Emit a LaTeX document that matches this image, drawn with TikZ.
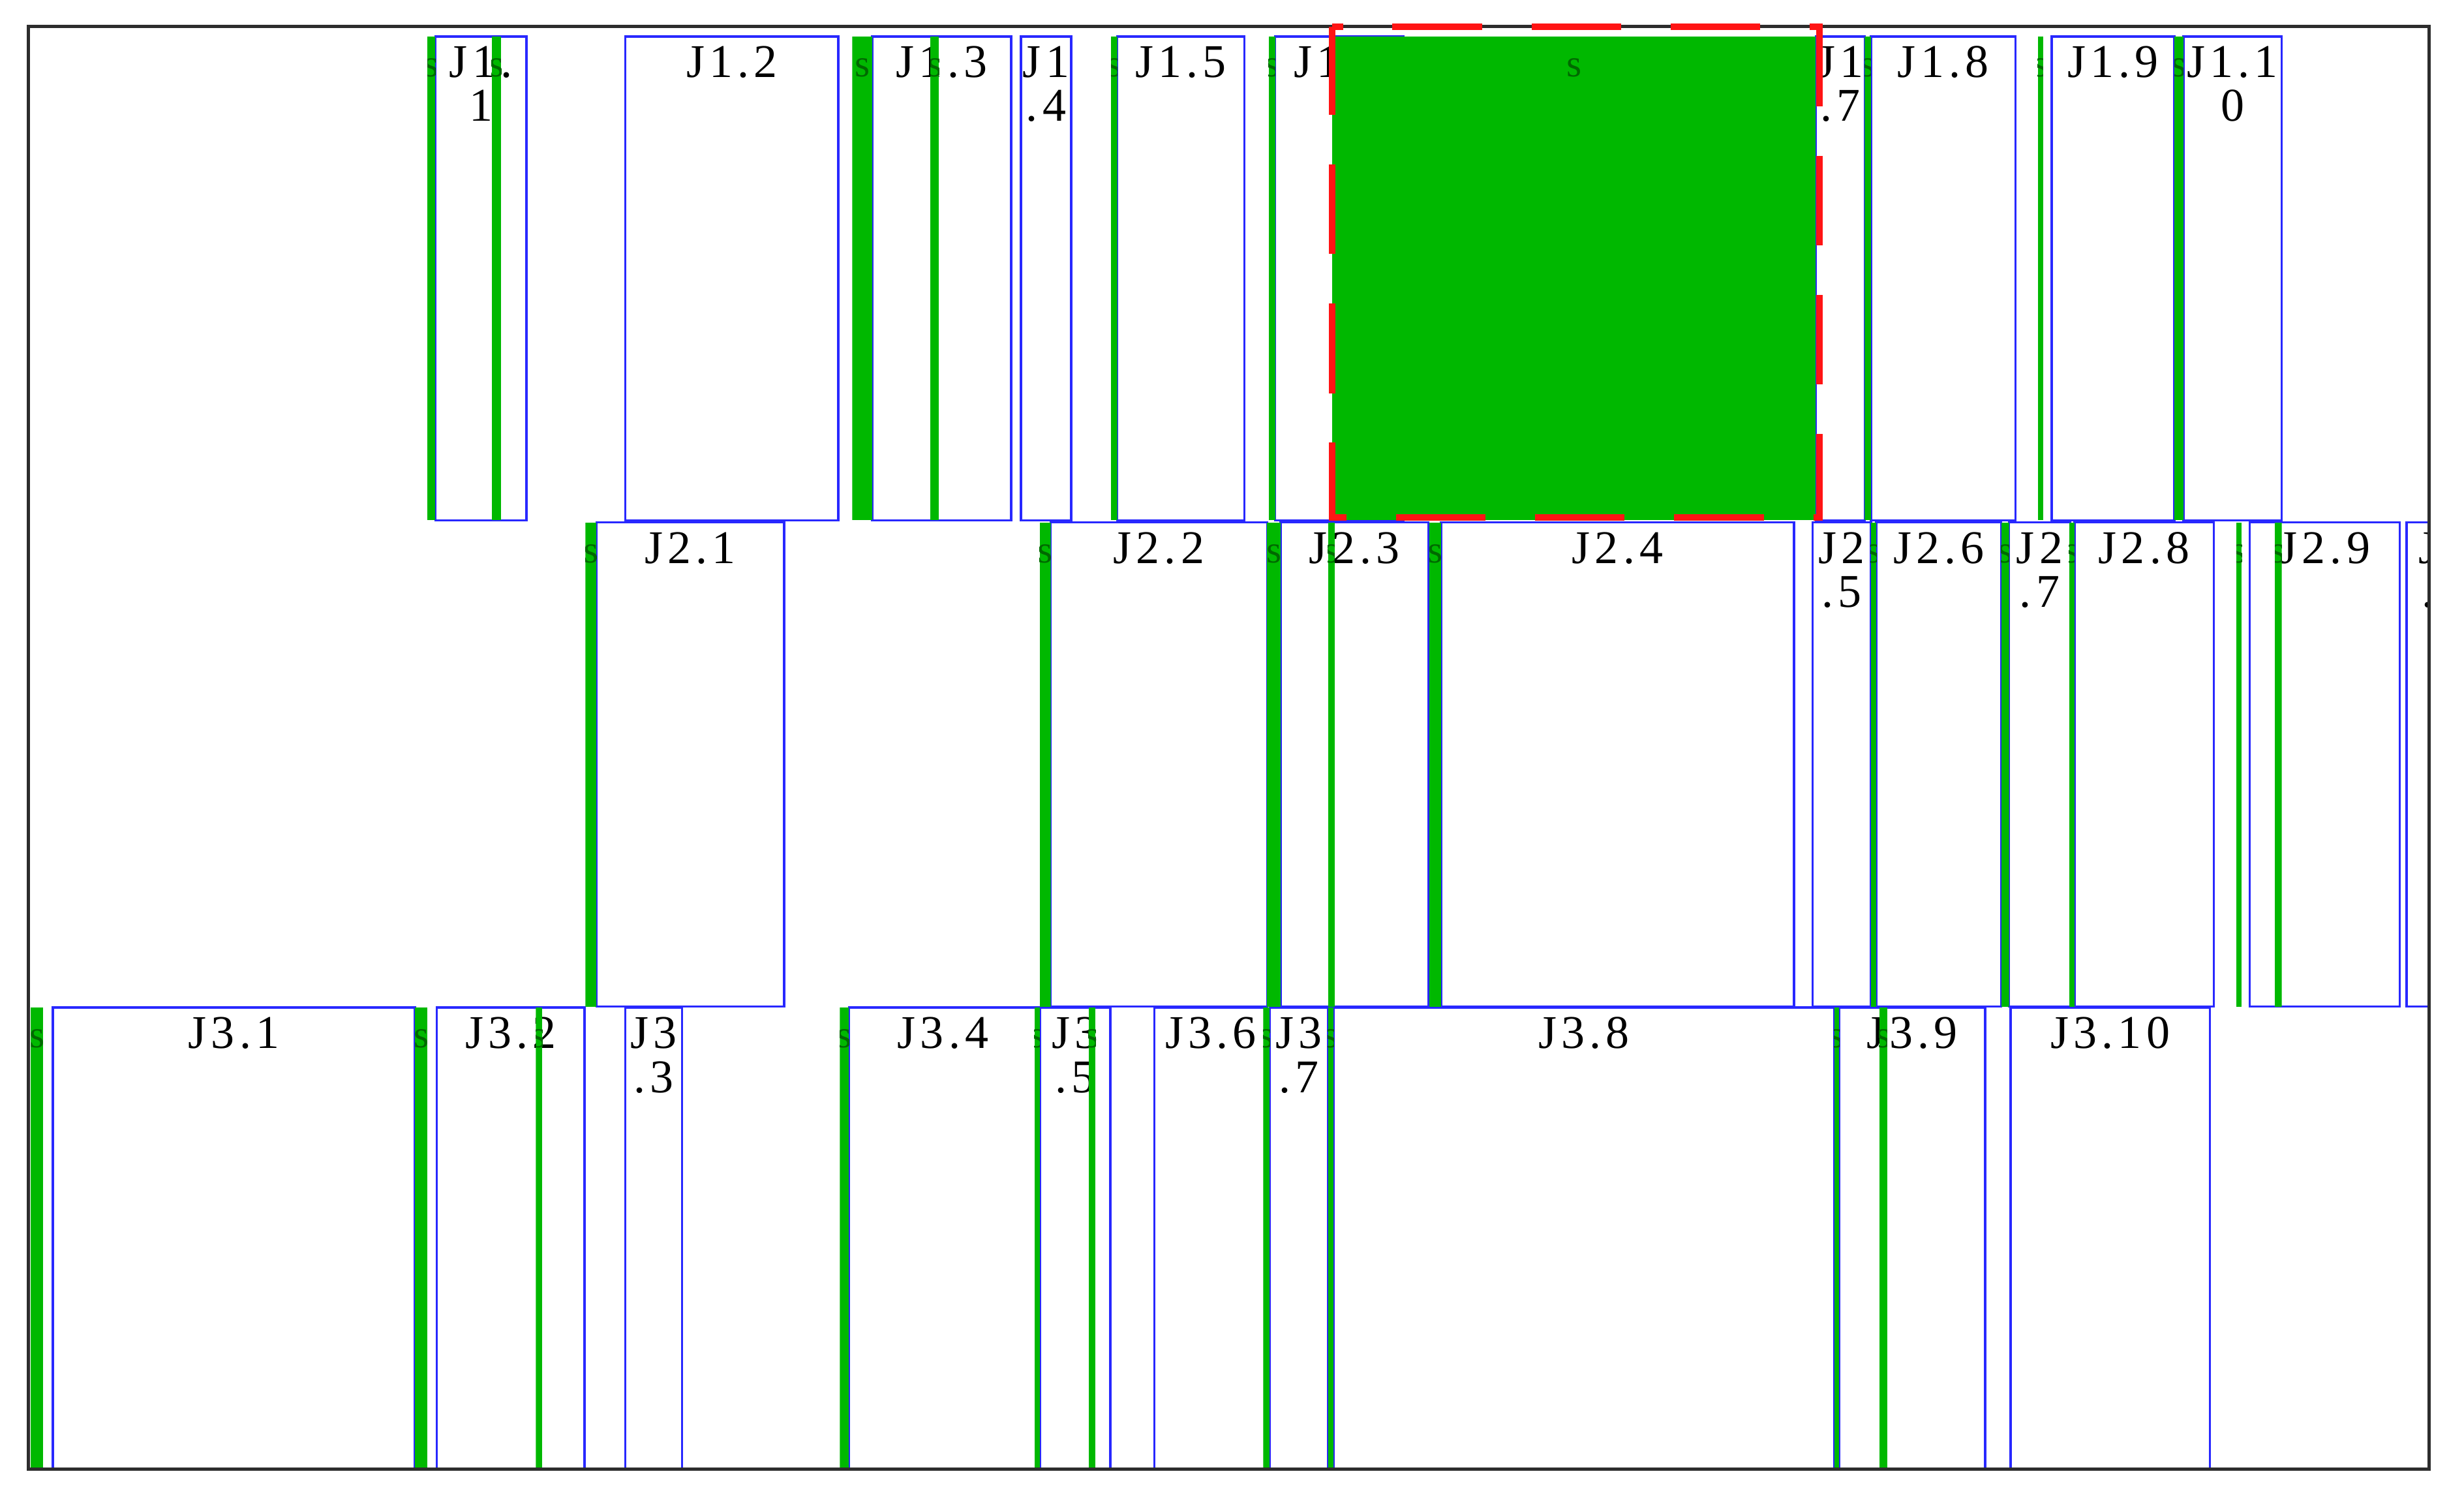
\documentclass[tikz,border=0pt]{standalone}
\usepackage{fontspec}
\setmainfont{Liberation Serif}
\newfontfamily\jobfont[LetterSpace=10]{Liberation Serif}
\usetikzlibrary{positioning}
\definecolor{setupgreen}{RGB}{0,184,0}
\definecolor{jobblue}  {RGB}{40,40,255}
\definecolor{holdred}  {RGB}{255,20,20}
\definecolor{stext}    {RGB}{0,105,0}
\definecolor{framegrey}{RGB}{45,45,45}
\tikzset{
  jobbox/.style  ={draw=jobblue, line width=0.4pt, rectangle, inner sep=0pt,
                   outer sep=0pt, anchor=north west},
  joblab/.style  ={font=\jobfont\fontsize{8.5}{8}\selectfont, align=center,
                   inner sep=0pt},
  setup/.style   ={fill=setupgreen},
  stag/.style    ={font=\jobfont\fontsize{7}{7}\selectfont, text=stext,
                   inner sep=0pt, anchor=base},
  hold/.style    ={draw=holdred, line width=1.15pt,
                   dash pattern=on 5.7mm off 3.15mm, dash phase=5mm},
  framebox/.style={draw=framegrey, line width=0.6pt}
}
% setup slot: x from, x to, y from, y to, name of its tag
\newcommand{\setupbar}[5]{%
  \begin{scope}
    \clip (#1,#3) rectangle (#2,#4);
    \fill[setup] (#1,#3) rectangle (#2,#4);
    \node[stag] (#5) at ({(#1+#2)/2},#3+25.6) {s};
  \end{scope}}
\begin{document}
\begin{tikzpicture}[x=0.1mm, y=-0.1mm]
\fill[white] (0,0) rectangle (1568,948.6);
\useasboundingbox (0,0) rectangle (1568,948.6);
\coordinate (fr1) at (18.2,16.9);
\coordinate (fr2) at (1545.6,934.5);

\begin{scope}
\clip (fr1) rectangle (fr2);
% machine 1
\foreach \xa/\xb/\lab/\nm in {277/335/{J1.\\1}/j11, 398/533.5/{J1.2}/j12,
    555/643.5/{J1.3}/j13, 649.7/681.7/{J1\\.4}/j14, 711/792/{J1.5}/j15,
    811.5/893/{J1.6}/j16, 1155.5/1186.6/{J1\\.7}/j17,
    1190.6/1282.6/{J1.8}/j18, 1305.6/1383.7/{J1.9}/j19,
    1389.4/1452/{J1.1\\0}/j110}{
  \node[jobbox, minimum width={(\xb-\xa)*0.1mm}, minimum height=30.78mm]
    (\nm) at (\xa,23.2) {};
  \node[joblab, below=0.54mm of \nm.north] (\nm t) {\lab};
}
% machine 2
\foreach \xa/\xb/\lab/\nm in {379.6/499/{J2.1}/j21, 668.6/806.3/{J2.2}/j22,
    815/908.9/{J2.3}/j23, 917.1/1141.6/{J2.4}/j24,
    1153.4/1190.6/{J2\\.5}/j25, 1194/1273.5/{J2.6}/j26,
    1278.5/1317.4/{J2\\.7}/j27, 1320.1/1408.7/{J2.8}/j28,
    1431.7/1527/{J2.9}/j29, 1531.4/1576.6/{J2\\.1\\0}/j210}{
  \node[jobbox, minimum width={(\xb-\xa)*0.1mm}, minimum height=30.8mm]
    (\nm) at (\xa,332.4) {};
  \node[joblab, below=0.54mm of \nm.north] (\nm t) {\lab};
}
% machine 3
\foreach \xa/\xb/\lab/\nm in {33.7/264/{J3.1}/j31, 278/372/{J3.2}/j32,
    398/434/{J3\\.3}/j33, 540.2/660/{J3.4}/j34, 661.7/706.5/{J3\\.5}/j35,
    734.7/806.3/{J3.6}/j36, 808/845.2/{J3\\.7}/j37,
    848.6/1167.3/{J3.8}/j38, 1170.3/1263.3/{J3.9}/j39,
    1279.5/1406.3/{J3.10}/j310}{
  \node[jobbox, minimum width={(\xb-\xa)*0.1mm}, minimum height=29.35mm]
    (\nm) at (\xa,641) {};
  \node[joblab, below=0.54mm of \nm.north] (\nm t) {\lab};
}

% setup times
\foreach \xa/\xb [count=\i] in {272/277, 313/319, 542.3/555, 592/597.5,
    707/711, 807.4/811.5, 1186.6/1190.6, 1296.8/1300.2, 1383.7/1389.4}
  \setupbar{\xa}{\xb}{23.2}{331}{sa\i};
\foreach \xa/\xb [count=\i] in {372.5/379.6, 661.7/668.6, 806.3/815,
    845.2/849.3, 909.6/917.1, 1190.6/1194, 1273.5/1278.5, 1316.7/1320.1,
    1423.2/1426.6, 1447.6/1452}
  \setupbar{\xa}{\xb}{332.4}{640.4}{sb\i};
\foreach \xa/\xb [count=\i] in {19.6/27.5, 264/272, 341/345, 534.4/540.2,
    658.3/661.7, 692.7/697.2, 803.9/808, 845.2/848.6, 1167.3/1170.3,
    1196/1201}
  \setupbar{\xa}{\xb}{641}{934.5}{sc\i};

% long setup on machine 1
\setupbar{847.6}{1155.5}{23.2}{331}{blk}
\end{scope}

\draw[framebox] (fr1) rectangle (fr2);

% highlighted block
\coordinate (hl1) at (847.6,16.9);
\coordinate (hl2) at (1157.8,329.3);
\draw[hold] (hl1) -- (hl1 -| hl2) -- (hl2) -- (hl2 -| hl1) -- cycle;
\end{tikzpicture}
\end{document}
